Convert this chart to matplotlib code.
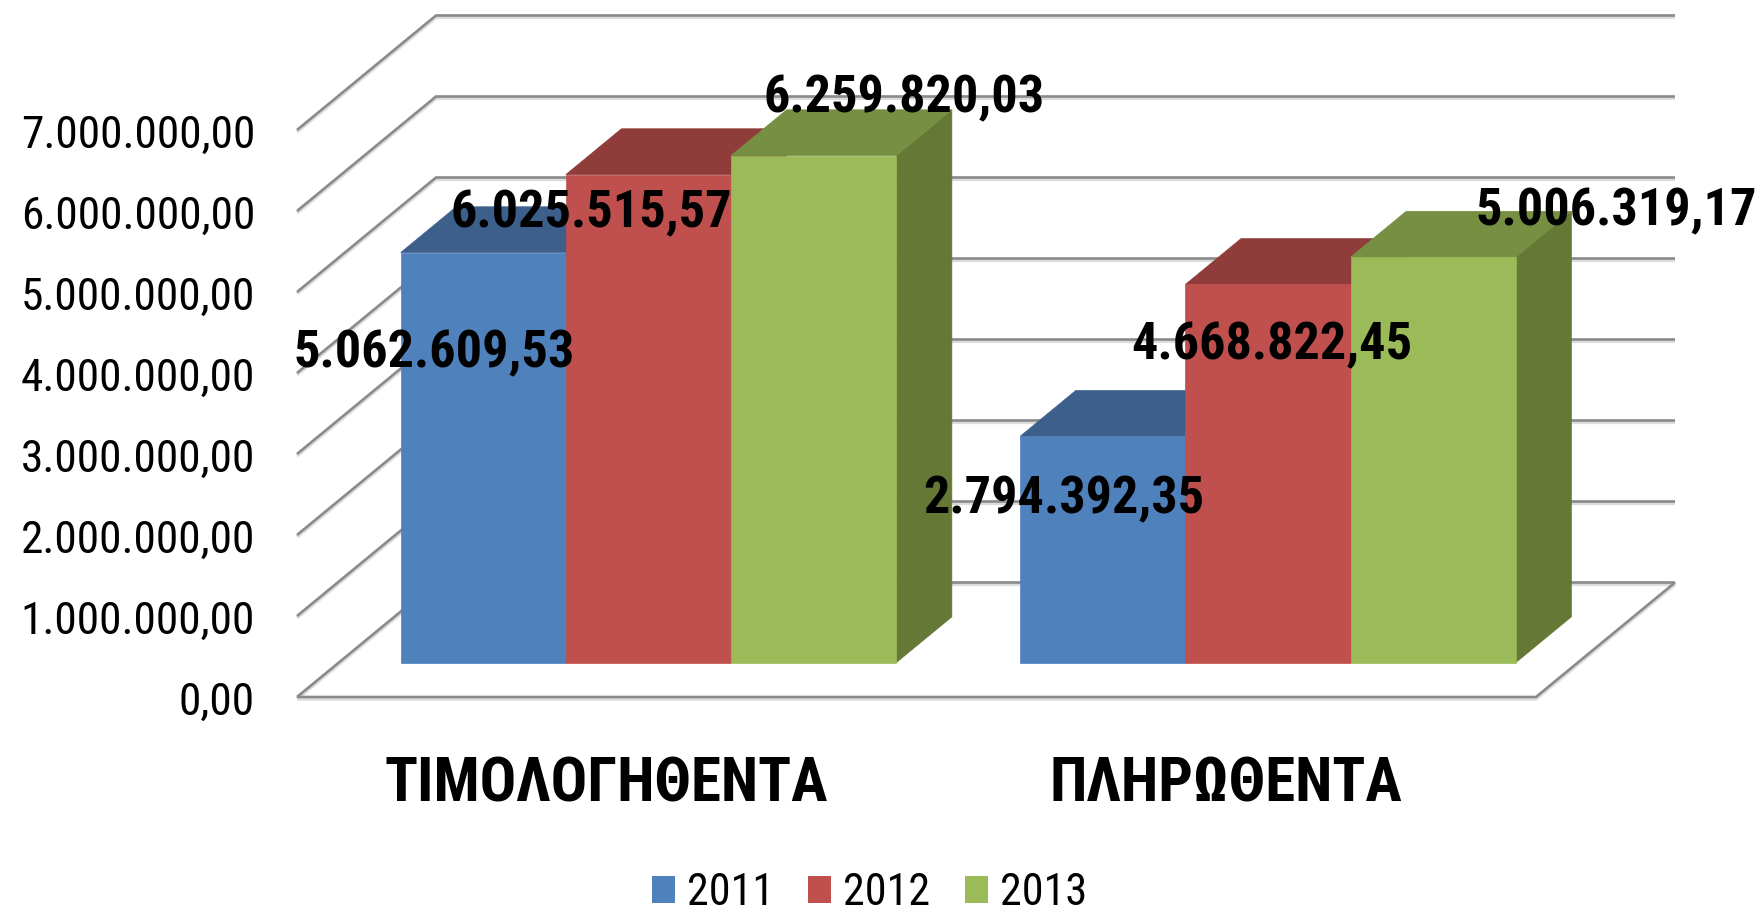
import matplotlib
matplotlib.use("Agg")
import matplotlib.pyplot as plt
import matplotlib.font_manager as fm
import matplotlib.transforms as mtransforms
from matplotlib.patches import Polygon, Patch

# ---------------- data ----------------
categories = ["ΤΙΜΟΛΟΓΗΘΕΝΤΑ", "ΠΛΗΡΩΘΕΝΤΑ"]
years = ["2011", "2012", "2013"]
values_2011 = [5062609.53, 2794392.35]
values_2012 = [6025515.57, 4668822.45]
values_2013 = [6259820.03, 5006319.17]
y_ticks = [0, 1000000, 2000000, 3000000, 4000000, 5000000, 6000000, 7000000]

series = [values_2011, values_2012, values_2013]

# ---------------- style ----------------
front_cols = ["#4F81BD", "#C0504D", "#9BBB59"]
top_cols = ["#3D5F8C", "#8F3C3A", "#778F42"]
side_cols = ["#385D8A", "#8C3B38", "#657836"]

names = {f.name for f in fm.fontManager.ttflist}
FONT = "Liberation Sans"
for cand in ["Liberation Sans Narrow", "Arial Narrow", "Roboto Condensed",
             "Open Sans Condensed", "Liberation Sans"]:
    if cand in names:
        FONT = cand
        break
plt.rcParams["font.family"] = [FONT, "DejaVu Sans"]

W, H = 1764, 916
fig = plt.figure(figsize=(W / 100, H / 100), dpi=100)
ax = fig.add_axes([0, 0, 1, 1])
ax.axis("off")

# layout anchors (pixels)
PX_X0, PX_CAT, PX_Y0, PX_PER_M = 297.0, 619.5, 697.0, 81.0
ax.set_xlim((0 - PX_X0) / PX_CAT, (W - PX_X0) / PX_CAT)
ax.set_ylim((PX_Y0 - H) / PX_PER_M * 1e6, PX_Y0 / PX_PER_M * 1e6)
DX = 139.0 / PX_CAT
DY = 114.5 / PX_PER_M * 1e6
D0, D1 = 0.30, 0.70
n_cat = len(categories)


def proj(x, v, d):
    return (x + d * DX, v + d * DY)


shadow = mtransforms.offset_copy(ax.transData, fig=fig, x=0, y=-1.8, units="dots")


def gridline(pts):
    xs = [p[0] for p in pts]
    ys = [p[1] for p in pts]
    ax.plot(xs, ys, color="#dcdcdc", lw=2.6, transform=shadow, zorder=1,
            solid_capstyle="butt", solid_joinstyle="miter")
    ax.plot(xs, ys, color="#8a8a8a", lw=1.9, zorder=1.5,
            solid_capstyle="butt", solid_joinstyle="miter")


for v in y_ticks:
    gridline([proj(0, v, 0), proj(0, v, 1), proj(n_cat, v, 1)])
gridline([proj(0, 0, 0), proj(n_cat, 0, 0), proj(n_cat, 0, 1)])

# ---------------- bars ----------------
bar_w = 1.0 / (3 + 0.75)
off = 0.375 * bar_w
z = 3
bar_tops = []
for k in range(n_cat):
    for i, vals in enumerate(series):
        x0 = k + off + i * bar_w
        x1 = x0 + bar_w
        v = vals[k]
        side = [proj(x1, 0, D0), proj(x1, 0, D1), proj(x1, v, D1), proj(x1, v, D0)]
        top = [proj(x0, v, D0), proj(x1, v, D0), proj(x1, v, D1), proj(x0, v, D1)]
        front = [proj(x0, 0, D0), proj(x1, 0, D0), proj(x1, v, D0), proj(x0, v, D0)]
        ax.add_patch(Polygon(side, closed=True, fc=side_cols[i], ec=side_cols[i], lw=0.5, zorder=z))
        ax.add_patch(Polygon(top, closed=True, fc=top_cols[i], ec=top_cols[i], lw=0.5, zorder=z + 0.1))
        ax.add_patch(Polygon(front, closed=True, fc=front_cols[i], ec=front_cols[i], lw=0.5, zorder=z + 0.2))
        z += 1
        bar_tops.append((proj((x0 + x1) / 2, v, D0), v))

renderer = fig.canvas.get_renderer()


def fit(texts, ref, target_w):
    bb = ref.get_window_extent(renderer)
    fs = ref.get_fontsize() * target_w / bb.width
    for t in texts:
        t.set_fontsize(fs)
    return fs


def fmt(v):
    s = f"{v:,.2f}"
    return s.replace(",", "X").replace(".", ",").replace("X", ".")


# ---------------- y tick labels ----------------
ytl = []
for v in y_ticks:
    t = ax.annotate(fmt(v), xy=proj(0, v, 0), xytext=(-42, -18),
                    textcoords="offset pixels", ha="right", va="baseline",
                    fontsize=30, color="black", zorder=20)
    ytl.append(t)
fit(ytl, ytl[-1], 235)

# ---------------- data labels ----------------
label_offsets = [(-49, -115), (-57, -53), (90, 43), (-39, -77), (4, -75), (183, 32)]
dl = []
for (xy, v), o in zip(bar_tops, label_offsets):
    t = ax.annotate(fmt(v), xy=xy, xytext=o, textcoords="offset pixels",
                    ha="center", va="baseline", fontsize=34, fontweight="bold",
                    color="black", zorder=30)
    dl.append(t)
fit(dl, dl[1], 282)

# ---------------- category labels ----------------
cl = []
for k, c in enumerate(categories):
    t = ax.annotate(c, xy=proj(k + 0.5, 0, 0), xytext=(0, -105),
                    textcoords="offset pixels", ha="center", va="baseline",
                    fontsize=36, fontweight="bold", color="black", zorder=20)
    cl.append(t)
fit(cl, cl[0], 444)

# ---------------- legend ----------------
tmp = ax.text(0, 0, years[0], fontsize=30)
fs_leg = fit([tmp], tmp, 87)
tmp.remove()
fs_px = fs_leg * 100 / 72.0
handles = [Patch(facecolor=c, edgecolor="none") for c in front_cols]
fig.legend(handles, years, loc="center", bbox_to_anchor=(869.5 / W, 1 - 893 / H),
           ncol=3, frameon=False, fontsize=fs_leg,
           handlelength=23 / fs_px, handleheight=25 / fs_px,
           handletextpad=12 / fs_px, columnspacing=34 / fs_px,
           borderpad=0, borderaxespad=0)

fig.savefig("out.png", dpi=100)
